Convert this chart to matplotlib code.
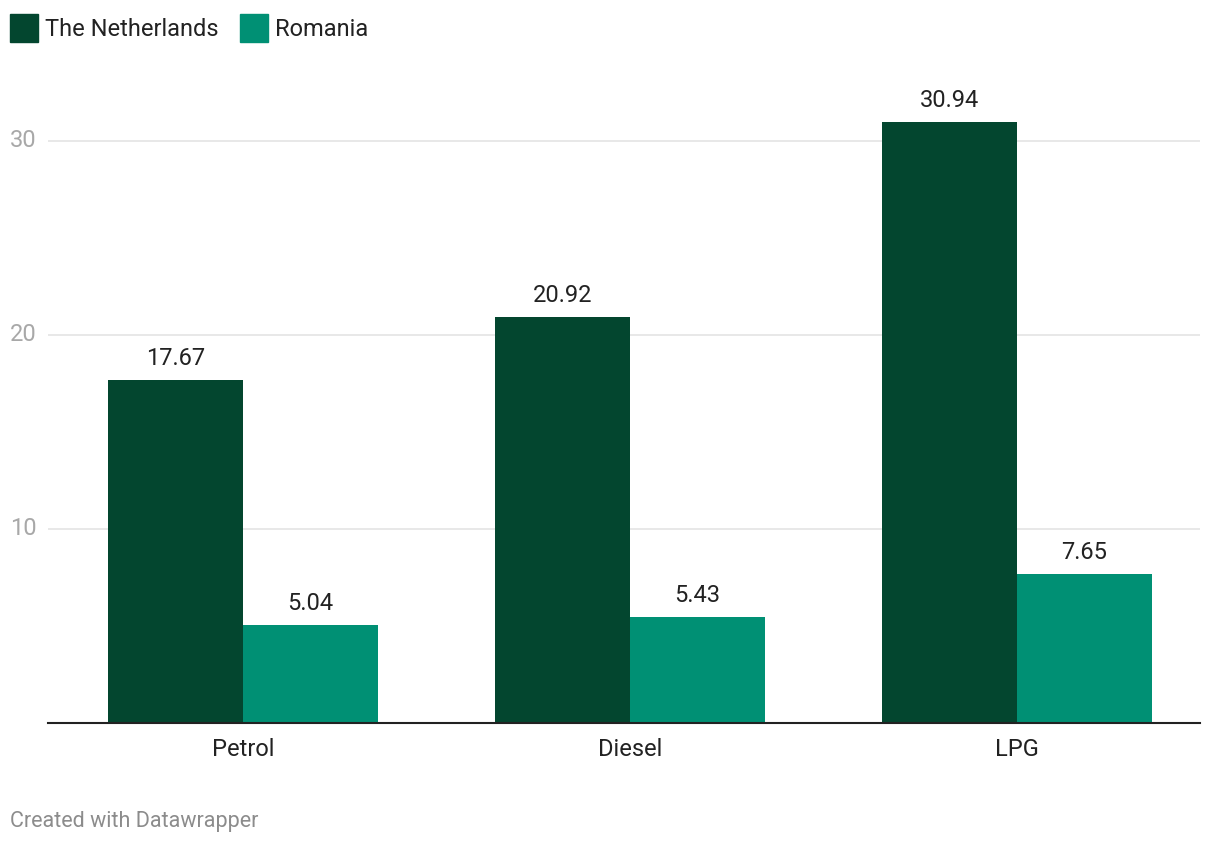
import matplotlib.pyplot as plt
import numpy as np

categories = ['Petrol', 'Diesel', 'LPG']
netherlands = [17.67, 20.92, 30.94]
romania = [5.04, 5.43, 7.65]
series_names = ['The Netherlands', 'Romania']
y_ticks = [10, 20, 30]

dark_green = '#03462f'
teal = '#009074'

plt.rcParams['font.family'] = ['Roboto', 'DejaVu Sans']

W, H = 1220, 844
fig = plt.figure(figsize=(W / 100, H / 100), dpi=100)

# axes placed in pixel terms: baseline at y=722.5, gridline 30 at y=140.5
y_top_val = 33.5
px_per_unit = (722.5 - 140.5) / 30
top_px = 722.5 - y_top_val * px_per_unit
ax = fig.add_axes([48 / W, (H - 722.5) / H, (1200 - 48) / W, (722.5 - top_px) / H])

x = np.arange(len(categories))
bw = 0.349
b1 = ax.bar(x - bw / 2, netherlands, bw, color=dark_green, label=series_names[0])
b2 = ax.bar(x + bw / 2, romania, bw, color=teal, label=series_names[1])

for bars, vals in [(b1, netherlands), (b2, romania)]:
    for rect, v in zip(bars, vals):
        ax.annotate(f'{v:.2f}', xy=(rect.get_x() + rect.get_width() / 2, v),
                    xytext=(0, 7.3), textcoords='offset points',
                    ha='center', va='bottom', fontsize=17, color='#222222')

ax.set_xlim(-0.504, 2.473)
ax.set_ylim(0, y_top_val)

for s in ['top', 'right', 'left']:
    ax.spines[s].set_visible(False)
ax.spines['bottom'].set_color('#222222')
ax.spines['bottom'].set_linewidth(1.5)
ax.spines['bottom'].set_zorder(5)

ax.set_yticks(y_ticks)
ax.yaxis.grid(True, color='#e2e2e2', linewidth=1.1)
ax.set_axisbelow(True)
# labels left aligned at x=10px, axis starts at 48px -> 38px = 27.4pt
ax.tick_params(axis='y', length=0, labelsize=17, labelcolor='#a8a8a8', pad=27.4)
for lbl in ax.get_yticklabels():
    lbl.set_horizontalalignment('left')
    lbl.set_verticalalignment('center')

ax.set_xticks(x)
ax.set_xticklabels(categories)
ax.tick_params(axis='x', length=0, labelsize=17, labelcolor='#222222', pad=11)

# legend drawn manually at the top left
fig.patches.append(plt.Rectangle((10 / W, 1 - 42 / H), 28 / W, 28 / H,
                                 transform=fig.transFigure, color=dark_green))
fig.text(45 / W, 1 - 29.5 / H, series_names[0], fontsize=17, color='#222222',
         ha='left', va='center')
fig.patches.append(plt.Rectangle((240 / W, 1 - 42 / H), 28 / W, 28 / H,
                                 transform=fig.transFigure, color=teal))
fig.text(275 / W, 1 - 29.5 / H, series_names[1], fontsize=17, color='#222222',
         ha='left', va='center')

fig.text(10 / W, 1 - 822 / H, 'Created with Datawrapper', fontsize=15.5,
         color='#8c8c8c', ha='left', va='center')

fig.savefig('out.png', dpi=100)
